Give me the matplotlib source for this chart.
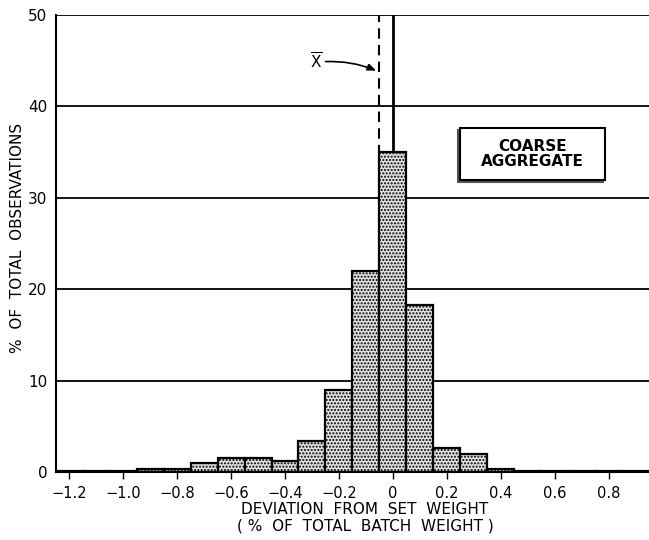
import numpy as np
import matplotlib
matplotlib.use('Agg')
import matplotlib.pyplot as plt
from matplotlib.patches import Rectangle

# histogram data (% of observations per 0.1 bin)
bin_centers = [-1.2, -1.1, -1.0, -0.9, -0.8, -0.7, -0.6, -0.5, -0.4, -0.3, -0.2, -0.1,
               0.0, 0.1, 0.2, 0.3, 0.4, 0.5, 0.6, 0.7, 0.8, 0.9]
pct_obs = [0.15, 0.15, 0.15, 0.3, 0.3, 1.0, 1.5, 1.5, 1.2, 3.4, 9.0, 22.0,
           35.0, 18.3, 2.6, 2.0, 0.3, 0.15, 0.15, 0.15, 0.15, 0.15]
bin_width = 0.1

x_ticks = [-1.2, -1.0, -0.8, -0.6, -0.4, -0.2, 0.0, 0.2, 0.4, 0.6, 0.8]
x_tick_labels = ['\u22121.2', '\u22121.0', '\u22120.8', '\u22120.6', '\u22120.4', '\u22120.2',
                 '0', '0.2', '0.4', '0.6', '0.8']
y_ticks = [0, 10, 20, 30, 40, 50]

mean_dev = -0.05
set_weight = 0.0

fig = plt.figure(figsize=(6.49, 5.40), dpi=100)
ax = fig.add_axes([0.086, 0.126, 0.914, 0.846])

# grid lines at each 10 %
for y in y_ticks[1:]:
    ax.axhline(y, color='black', lw=1.3, zorder=1)

ax.axvline(set_weight, color='black', lw=2.0, zorder=1)
ax.axvline(mean_dev, color='black', lw=1.5, ls=(0, (5, 3)), zorder=1)

ax.bar(bin_centers, pct_obs, width=bin_width, facecolor='#e2e2e2',
       edgecolor='black', hatch='.....', lw=1.6, zorder=2)

ax.set_xlim(-1.25, 0.95)
ax.set_ylim(0, 50)
ax.set_xticks(x_ticks)
ax.set_xticklabels(x_tick_labels, fontsize=10.5)
ax.set_yticks(y_ticks)
ax.set_yticklabels([str(v) for v in y_ticks], fontsize=11)
ax.tick_params(axis='x', direction='out', length=5, width=1, pad=5)
ax.tick_params(axis='y', length=0, pad=6)

for s in ['top', 'right']:
    ax.spines[s].set_visible(False)
ax.spines['left'].set_linewidth(1.5)
ax.spines['bottom'].set_linewidth(1.5)

fig.text(18 / 649, 1 - 238 / 540, '%  OF  TOTAL  OBSERVATIONS', rotation=90,
         fontsize=11, ha='center', va='center')
fig.text(365 / 649, 1 - 509 / 540, 'DEVIATION  FROM  SET  WEIGHT',
         fontsize=11, ha='center', va='center')
fig.text(365 / 649, 1 - 526 / 540, '( %  OF  TOTAL  BATCH  WEIGHT )',
         fontsize=11, ha='center', va='center')

# X-bar annotation
ax.text(-0.283, 44.9, r'$\overline{\mathsf{X}}$', fontsize=11, ha='center', va='center')
ax.annotate('', xy=(-0.052, 43.8), xytext=(-0.26, 44.9),
            arrowprops=dict(arrowstyle='-|>,head_length=0.5,head_width=0.2',
                            color='black', lw=1.2,
                            connectionstyle='arc3,rad=-0.12'))

# boxed label with shadow
bx, by, bw, bh = 460 / 649, 1 - 180 / 540, 145 / 649, 52 / 540
fig.add_artist(Rectangle((bx - 2 / 649, by - 2 / 540), bw, bh, transform=fig.transFigure,
                         facecolor='#555555', edgecolor='#555555', lw=1.5))
fig.add_artist(Rectangle((bx, by), bw, bh, transform=fig.transFigure,
                         facecolor='white', edgecolor='black', lw=1.5))
fig.text(bx + bw / 2, by + bh / 2, 'COARSE\nAGGREGATE', ha='center', va='center',
         fontsize=11, fontweight='bold', linespacing=1.0)

fig.savefig('out.png', dpi=100)
